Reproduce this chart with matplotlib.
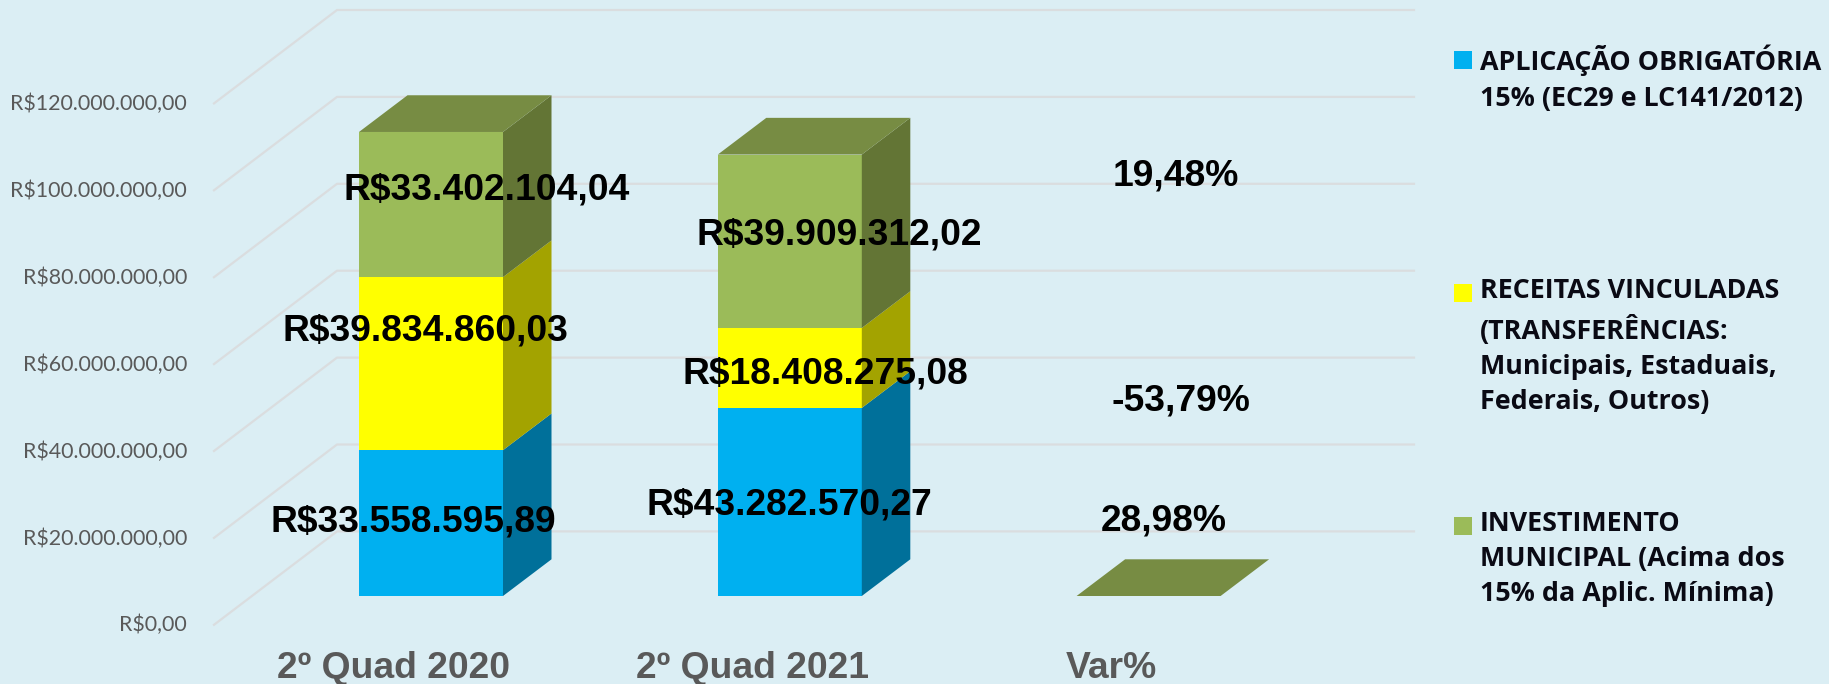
import matplotlib
matplotlib.use('Agg')
import matplotlib.pyplot as plt
from matplotlib.patches import Rectangle
from matplotlib.ticker import FuncFormatter
from matplotlib.transforms import ScaledTranslation
import numpy as np

W, H = 1829, 684

categories = ['2º Quad 2020', '2º Quad 2021', 'Var%']
aplicacao = [33558595.89, 43282570.27, 0.2898]
vinculadas = [39834860.03, 18408275.08, -0.5379]
investimento = [33402104.04, 39909312.02, 0.1948]
y_ticks = [0, 20e6, 40e6, 60e6, 80e6, 100e6, 120e6]

series = [aplicacao, vinculadas, investimento]
legend_labels = [
    'APLICAÇÃO OBRIGATÓRIA\n15% (EC29 e LC141/2012)',
    'RECEITAS VINCULADAS\n(TRANSFERÊNCIAS:\nMunicipais, Estaduais,\nFederais, Outros)',
    'INVESTIMENTO\nMUNICIPAL (Acima dos\n15% da Aplic. Mínima)',
]
front_colors = ['#00B0F0', '#FFFF00', '#9BBB59']
side_colors = ['#00709A', '#A3A300', '#637535']
top_color = '#778C43'
bg = '#DBEEF4'
grid_color = '#DADDDF'
label_gray = '#595959'

# pixel layout of the fake 3d box
px_per_cat = 358.8
px_per_real = 4.345 / 1e6
x0_px, base_px = 431.0, 596.0
left_px, right_px, bottom_px = 214, 1414, 645
bar_width = 144 / px_per_cat
depth_x = 48.5 / px_per_cat
depth_y = 36.7 / px_per_real
wall_x = (337 - x0_px) / px_per_cat
back_shift = (base_px - 531.4) / px_per_real
front_shift = (base_px - 624.8) / px_per_real

# data label offsets from the middle of each segment (px), moved by hand in the original
label_offsets = [
    [(-18, 1), (-6, 33), (56, 15)],
    [(0, -3), (36, -6), (49, 6)],
    [(15, 75), (32, 195), (27, 420)],
]


def brl(v, pos=None):
    s = f'{v:,.2f}'.replace(',', 'X').replace('.', ',').replace('X', '.')
    return 'R$' + s


def pct(v):
    return f'{v * 100:.2f}%'.replace('.', ',')


fig = plt.figure(figsize=(W / 100, H / 100), dpi=100, facecolor=bg)
ax = fig.add_axes([left_px / W, 1 - bottom_px / H, (right_px - left_px) / W, bottom_px / H])
ax.patch.set_visible(False)
ax.set_xlim((left_px - x0_px) / px_per_cat, (right_px - x0_px) / px_per_cat)
ax.set_ylim((base_px - bottom_px) / px_per_real, base_px / px_per_real)
for s in ax.spines.values():
    s.set_visible(False)

# walls: slanted part on the left, straight part along the back
for v in y_ticks:
    ax.plot([ax.get_xlim()[0], wall_x, ax.get_xlim()[1]],
            [v + front_shift, v + back_shift, v + back_shift],
            color=grid_color, lw=1.6, zorder=1, clip_on=False)

x = np.arange(len(categories))
bottom = np.zeros(len(categories))
for vals, fc, sc in zip(series, front_colors, side_colors):
    vals = np.array(vals)
    ax.bar(x, vals, bottom=bottom, width=bar_width, color=fc, edgecolor='none', zorder=2)
    for xi, b, v in zip(x, bottom, vals):
        xr = xi + bar_width / 2
        ax.fill([xr, xr + depth_x, xr + depth_x, xr],
                [b, b + depth_y, b + v + depth_y, b + v],
                color=sc, lw=0, zorder=2)
    bottom = bottom + vals

for xi, t in zip(x, bottom):
    xl, xr = xi - bar_width / 2, xi + bar_width / 2
    ax.fill([xl, xr, xr + depth_x, xl + depth_x], [t, t, t + depth_y, t + depth_y],
            color=top_color, lw=0, zorder=2)

# data labels
bottom = np.zeros(len(categories))
for j, vals in enumerate(series):
    for i, v in enumerate(vals):
        txt = pct(v) if categories[i] == 'Var%' else brl(v)
        ax.annotate(txt, (x[i], bottom[i] + v / 2), xytext=label_offsets[i][j],
                    textcoords='offset pixels', ha='center', va='center',
                    fontsize=26.8, fontweight='bold', family='Liberation Sans',
                    color='black', zorder=5, annotation_clip=False)
    bottom = bottom + np.array(vals)

# axis labels sit on the front edge of the wall, not on the bar plane
ax.set_yticks(y_ticks)
ax.yaxis.set_major_formatter(FuncFormatter(brl))
ax.tick_params(axis='y', length=0, pad=19.4, labelsize=15.4, labelcolor=label_gray)
y_shift = ScaledTranslation(0, -27.3 / 100, fig.dpi_scale_trans)
for lab in ax.get_yticklabels():
    lab.set_family('Lato')
    lab.set_transform(lab.get_transform() + y_shift)

ax.set_xticks(x)
ax.set_xticklabels(categories)
ax.tick_params(axis='x', length=0, pad=4, labelsize=26.8, labelcolor=label_gray)
x_shift = ScaledTranslation(-37.5 / 100, 0, fig.dpi_scale_trans)
for lab in ax.get_xticklabels():
    lab.set_family('Liberation Sans')
    lab.set_fontweight('bold')
    lab.set_transform(lab.get_transform() + x_shift)

# legend by hand: the gaps between entries differ and the key sits on the first line
legend_tops = [45, 278, 511]
for lab, fc, top in zip(legend_labels, front_colors, legend_tops):
    fig.add_artist(Rectangle((1454 / W, 1 - (top + 24) / H), 18 / W, 18 / H,
                             transform=fig.transFigure, facecolor=fc, edgecolor='none'))
    fig.text(1480 / W, 1 - top / H, lab, ha='left', va='top', linespacing=1.46,
             family='Open Sans', fontweight='bold', fontsize=19.4, color='#0A0A14')

fig.savefig('out.png', dpi=100, facecolor=bg)
